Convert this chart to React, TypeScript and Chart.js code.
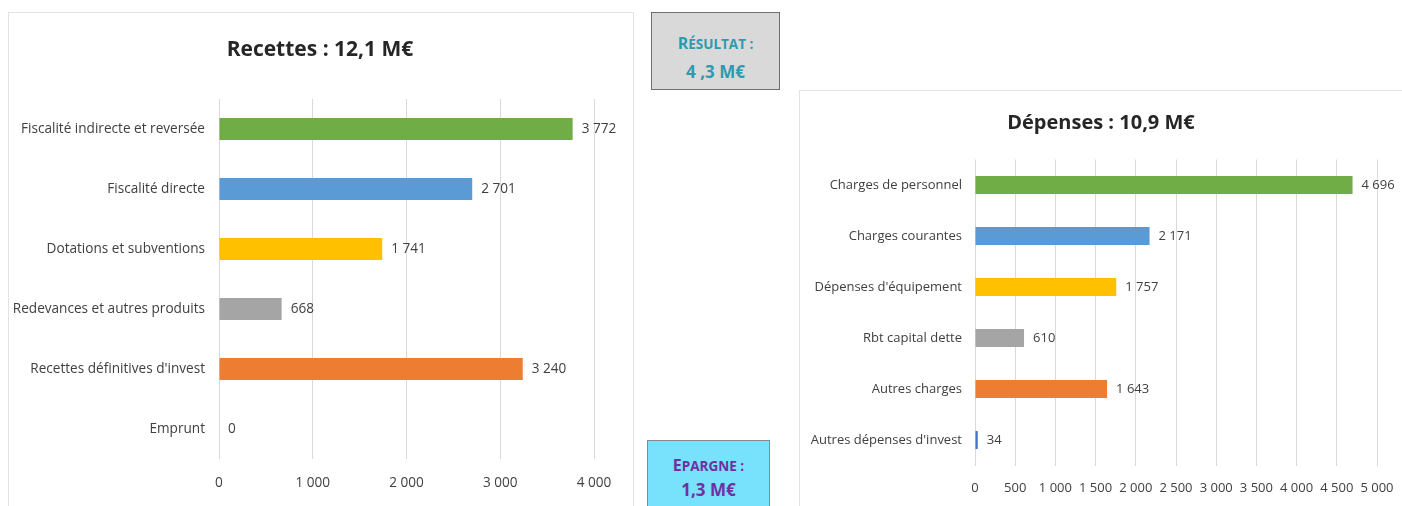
import React, { useEffect, useRef } from "react";
import { Chart, registerables } from "chart.js";

Chart.register(...registerables);

const FONT = "'Open Sans', 'DejaVu Sans Condensed', sans-serif";

const recettesTitle = "Recettes : 12,1 M€";
const recettesLabels = [
  "Fiscalité indirecte et reversée",
  "Fiscalité directe",
  "Dotations et subventions",
  "Redevances et autres produits",
  "Recettes définitives d'invest",
  "Emprunt",
];
const recettesValues = [3772, 2701, 1741, 668, 3240, 0];
const recettesTicks = [0, 1000, 2000, 3000, 4000];

const depensesTitle = "Dépenses : 10,9 M€";
const depensesLabels = [
  "Charges de personnel",
  "Charges courantes",
  "Dépenses d'équipement",
  "Rbt capital dette",
  "Autres charges",
  "Autres dépenses d'invest",
];
const depensesValues = [4696, 2171, 1757, 610, 1643, 34];
const depensesTicks = [0, 500, 1000, 1500, 2000, 2500, 3000, 3500, 4000, 4500, 5000];

const barColors = ["#70AD47", "#5B9BD5", "#FFC000", "#A5A5A5", "#ED7D31", "#4472C4"];

const fmt = (n: number) => String(n).replace(/\B(?=(\d{3})+(?!\d))/g, " ");

const valueLabelPlugin = (fontSize: number) => ({
  id: "valueLabels",
  afterDatasetsDraw(chart: any) {
    const ctx = chart.ctx;
    ctx.save();
    ctx.font = `${fontSize}px ${FONT}`;
    ctx.fillStyle = "#404040";
    ctx.textAlign = "left";
    ctx.textBaseline = "middle";
    chart.data.datasets.forEach((ds: any, di: number) => {
      const meta = chart.getDatasetMeta(di);
      meta.data.forEach((bar: any, i: number) => {
        ctx.fillText(fmt(ds.data[i] as number), bar.x + 9, bar.y);
      });
    });
    ctx.restore();
  },
});

const titlePlugin = (text: string, size: number, cy: number) => ({
  id: "centerTitle",
  afterDraw(chart: any) {
    const ctx = chart.ctx;
    ctx.save();
    ctx.font = `bold ${size}px ${FONT}`;
    ctx.fillStyle = "#262626";
    ctx.textAlign = "center";
    ctx.textBaseline = "middle";
    ctx.fillText(text, chart.width / 2, cy);
    ctx.restore();
  },
});

type Cfg = {
  title: string;
  labels: string[];
  values: number[];
  ticks: number[];
  titleSize: number;
  titleY: number;
  padTop: number;
  yWidth: number;
  xHeight: number;
  padRight: number;
  labelSize: number;
  labelPad: number;
  tickOffset: number;
  barPct: number;
};

function BarChart({ cfg, width, height }: { cfg: Cfg; width: number; height: number }) {
  const ref = useRef<HTMLCanvasElement>(null);
  useEffect(() => {
    if (!ref.current) return;
    const chart = new Chart(ref.current, {
      type: "bar",
      data: {
        labels: cfg.labels,
        datasets: [
          {
            data: cfg.values,
            backgroundColor: barColors,
            borderWidth: 0,
            categoryPercentage: 1,
            barPercentage: cfg.barPct,
          },
        ],
      },
      options: {
        indexAxis: "y",
        animation: false,
        responsive: false,
        maintainAspectRatio: false,
        events: [],
        layout: { padding: { top: cfg.padTop, left: 0, right: cfg.padRight, bottom: 0 } },
        plugins: {
          legend: { display: false },
          tooltip: { enabled: false },
          title: { display: false },
        },
        scales: {
          x: {
            type: "linear",
            min: cfg.ticks[0],
            max: cfg.ticks[cfg.ticks.length - 1],
            afterFit: (s: any) => {
              s.height = cfg.xHeight;
            },
            afterBuildTicks: (s: any) => {
              s.ticks = cfg.ticks.map((v) => ({ value: v }));
            },
            ticks: {
              color: "#404040",
              padding: 2,
              font: { family: FONT, size: cfg.labelSize },
              callback: (v: any) => fmt(Number(v)),
              maxRotation: 0,
              autoSkip: false,
            },
            grid: {
              color: "#D9D9D9",
              drawTicks: true,
              tickLength: cfg.tickOffset - 2,
              tickColor: "rgba(0,0,0,0)",
              lineWidth: 1,
            },
            border: { display: false },
          },
          y: {
            afterFit: (s: any) => {
              s.width = cfg.yWidth;
            },
            ticks: {
              color: "#404040",
              padding: cfg.labelPad,
              font: { family: FONT, size: cfg.labelSize },
              crossAlign: "near",
              autoSkip: false,
            },
            grid: { display: false, drawTicks: false },
            border: { display: false },
          },
        },
      },
      plugins: [valueLabelPlugin(cfg.labelSize), titlePlugin(cfg.title, cfg.titleSize, cfg.titleY)],
    } as any);
    return () => chart.destroy();
  }, [cfg]);
  return <canvas ref={ref} width={width} height={height} style={{ width, height, display: "block" }} />;
}

const leftCfg: Cfg = {
  title: recettesTitle,
  labels: recettesLabels,
  values: recettesValues,
  ticks: recettesTicks,
  titleSize: 21,
  titleY: 38,
  padTop: 87,
  yWidth: 211,
  xHeight: 47,
  padRight: 38,
  labelSize: 13.6,
  labelPad: 14,
  tickOffset: 16,
  barPct: 0.37,
};

const rightCfg: Cfg = {
  title: depensesTitle,
  labels: depensesLabels,
  values: depensesValues,
  ticks: depensesTicks,
  titleSize: 20,
  titleY: 33,
  padTop: 69.5,
  yWidth: 175,
  xHeight: 40.5,
  padRight: 25,
  labelSize: 13,
  labelPad: 13,
  tickOffset: 15,
  barPct: 0.35,
};

export default function App() {
  useEffect(() => {
    document.body.style.margin = "0";
  }, []);
  const boxText: React.CSSProperties = {
    fontFamily: FONT,
    fontWeight: "bold",
    textAlign: "center",
    position: "absolute",
    left: 0,
    right: 0,
  };
  return (
    <div style={{ position: "relative", width: 1402, height: 506, overflow: "hidden", background: "#fff" }}>
      {/* left panel */}
      <div
        style={{
          position: "absolute",
          left: 8,
          top: 12,
          width: 626,
          height: 500,
          border: "1px solid #E3E3E3",
          boxSizing: "border-box",
        }}
      />
      <div style={{ position: "absolute", left: 8, top: 12 }}>
        <BarChart cfg={leftCfg} width={624} height={494} />
      </div>
      {/* right panel */}
      <div
        style={{
          position: "absolute",
          left: 799,
          top: 90,
          width: 620,
          height: 430,
          border: "1px solid #E3E3E3",
          boxSizing: "border-box",
        }}
      />
      <div style={{ position: "absolute", left: 800, top: 90 }}>
        <BarChart cfg={rightCfg} width={602} height={416} />
      </div>
      {/* Résultat box */}
      <div
        style={{
          position: "absolute",
          left: 651,
          top: 12,
          width: 129,
          height: 78,
          background: "#D9D9D9",
          border: "1px solid #6F6F6F",
          boxSizing: "border-box",
          color: "#2E9AB0",
        }}
      >
        <div style={{ ...boxText, top: 19, lineHeight: "22px" }}>
          <span style={{ fontSize: 16 }}>R</span>
          <span style={{ fontSize: 13.5 }}>ÉSULTAT :</span>
        </div>
        <div style={{ ...boxText, top: 48, fontSize: 17, lineHeight: "22px" }}>4 ,3 M€</div>
      </div>
      {/* Epargne box */}
      <div
        style={{
          position: "absolute",
          left: 647,
          top: 440,
          width: 123,
          height: 80,
          background: "#78E1FB",
          border: "1px solid #7F8C90",
          boxSizing: "border-box",
          color: "#7030A0",
        }}
      >
        <div style={{ ...boxText, top: 13, lineHeight: "22px" }}>
          <span style={{ fontSize: 16 }}>E</span>
          <span style={{ fontSize: 13.5 }}>PARGNE :</span>
        </div>
        <div style={{ ...boxText, top: 38, fontSize: 17, lineHeight: "22px" }}>1,3 M€</div>
      </div>
    </div>
  );
}
